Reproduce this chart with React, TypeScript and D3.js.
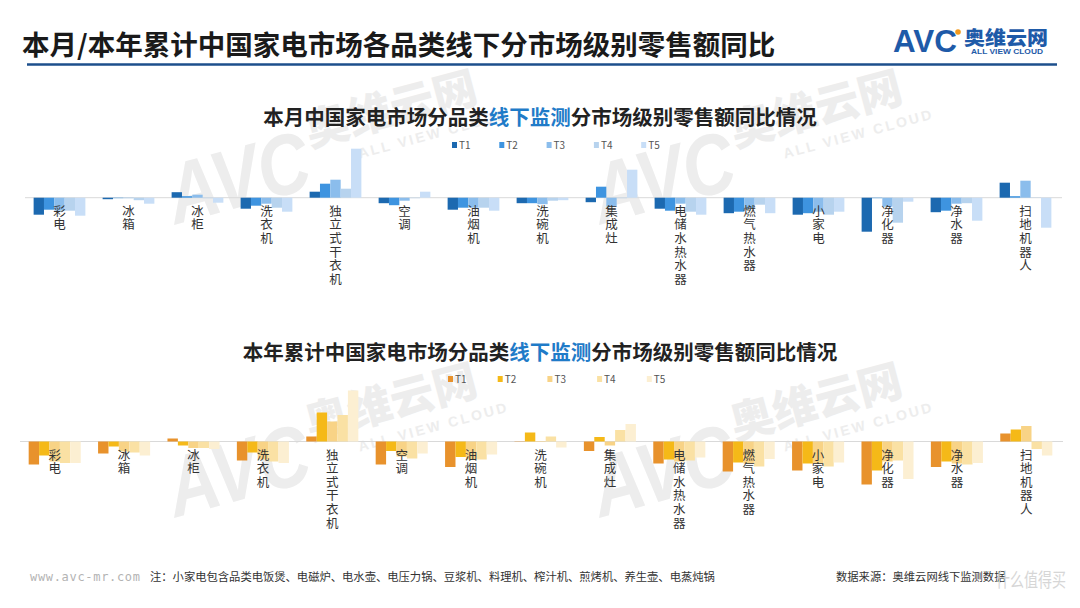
import React from 'react';
import * as d3 from 'd3';

const categories = ['彩电', '冰箱', '冰柜', '洗衣机', '独立式干衣机', '空调', '油烟机', '洗碗机', '集成灶', '电储水热水器', '燃气热水器', '小家电', '净化器', '净水器', '扫地机器人'];
const tiers = ['T1', 'T2', 'T3', 'T4', 'T5'];

// 本月 (month) YoY by tier
const monthT1 = [-17, -1.5, 5.5, -11, 6, -5.5, -12, -5.5, -4.5, -11, -15.5, -17, -34, -14.5, 15];
const monthT2 = [-12, -0.5, 1.5, -8, 14, -7.5, -10, -5.5, 11, -13, -14, -15.5, -0.5, -13, 1.5];
const monthT3 = [-13, -0.5, 3, -6, 18, -3, -10, -6.5, -9, -6, -11, -14, -9, -6, 17];
const monthT4 = [-13, -2.5, -0.5, -10, 9, -0.5, -10, -3, -0.5, -14, -7, -17, -25, -5.5, 0.3];
const monthT5 = [-18, -6, -5, -14, 49, 6, -13, -2.5, 28, -17, -15.5, -14, -4, -23, -30];

// 本年累计 (year-to-date) YoY by tier
const yearT1 = [-23, -12, 3, -19, 5, -23, -25.5, -0.3, -9.5, -22, -30, -29, -43, -25.5, 8];
const yearT2 = [-14, -5, -4, -11, 29, -9.5, -15.5, 9, 4.5, -18, -21, -22, -29, -20, 12];
const yearT3 = [-20, -10, -6.5, -18, 20, -15, -18, 0.5, -4, -20, -22, -22, -20, -22, 15.5];
const yearT4 = [-21.5, -11, -6.5, -20, 26.5, -17, -18, 5, 11.5, -19, -25, -25, -19, -23, -7.5];
const yearT5 = [-21.5, -14, -7.5, -21.5, 51, -12, -13, -6, 17.5, -16, -17.5, -21, -37.5, -21.5, -14];

const blueColors = ['#1c69b0', '#3e94e0', '#8bbdec', '#b7d3ee', '#c8def7'];
const orangeColors = ['#e8922c', '#f5b918', '#f8d386', '#fae1a4', '#fcefd2'];

const FONT = '"Noto Sans CJK SC", "Noto Sans", sans-serif';

type PanelProps = {
  titleParts: [string, string, string];
  titleY: number;
  series: number[][];
  colors: string[];
  range: [number, number];
  baseY: number;
  legendY: number;
  legendX0: number;
  legendStep: number;
};

function Panel({ titleParts, titleY, series, colors, range, baseY, legendY, legendX0, legendStep }: PanelProps) {
  const x = d3.scaleBand<string>().domain(categories).range(range).paddingInner(0.25).paddingOuter(0.125);
  const xi = d3.scaleBand<string>().domain(tiers).range([0, x.bandwidth()]);
  const y = d3.scaleLinear().domain([-50, 60]).range([baseY + 50, baseY - 60]);
  const y0 = y(0);
  return (
    <g>
      <text x={540} y={titleY} textAnchor="middle" fontFamily={FONT} fontWeight={700} fontSize={20.5} fill="#222">
        <tspan>{titleParts[0]}</tspan>
        <tspan fill="#1f7bc8">{titleParts[1]}</tspan>
        <tspan>{titleParts[2]}</tspan>
      </text>
      {tiers.map((t, j) => (
        <g key={t} transform={`translate(${legendX0 + j * legendStep},${legendY})`}>
          <rect x={0} y={-3} width={5} height={6} fill={colors[j]} />
          <text x={7} y={4} fontFamily={FONT} fontSize={10} fill="#555">{t}</text>
        </g>
      ))}
      <line x1={range[0]} x2={range[1] + 2} y1={y0} y2={y0} stroke="#d9d9d9" strokeWidth={1} />
      {categories.map((c, i) => (
        <g key={c}>
          {tiers.map((t, j) => {
            const v = series[j][i];
            const yy = y(v);
            return (
              <rect
                key={t}
                x={(x(c) as number) + (xi(t) as number)}
                y={Math.min(yy, y0)}
                width={xi.bandwidth()}
                height={Math.abs(yy - y0)}
                fill={colors[j]}
              />
            );
          })}
        </g>
      ))}
      {categories.map((c) => (
        <text key={c} fontFamily={FONT} fontSize={12.5} fill="#333" textAnchor="middle">
          {Array.from(c).map((ch, k) => (
            <tspan key={k} x={(x(c) as number) + x.bandwidth() / 2} y={y0 + 18 + k * 13.6}>{ch}</tspan>
          ))}
        </text>
      ))}
    </g>
  );
}

function Watermark({ px, py }: { px: number; py: number }) {
  return (
    <g transform={`translate(${px},${py}) rotate(-15)`} fill="#ededed" fontFamily={FONT} fontWeight={900}>
      <text x={0} y={0} fontSize={44}>奥维云网</text>
      <text x={45} y={24} fontSize={14} letterSpacing={2.5} fontFamily="'Liberation Sans', sans-serif" fontWeight={700}>ALL VIEW CLOUD</text>
      <text x={-150} y={40} fontSize={85} fontStyle="italic" fontFamily="'Liberation Sans', sans-serif" textLength={145} lengthAdjust="spacingAndGlyphs">AVC</text>
    </g>
  );
}

export default function App() {
  const monthSeries = [monthT1, monthT2, monthT3, monthT4, monthT5];
  const yearSeries = [yearT1, yearT2, yearT3, yearT4, yearT5];
  return (
    <svg width={1080} height={608} viewBox="0 0 1080 608" style={{ position: 'absolute', left: 0, top: 0, background: '#fff' }}>
      <rect x={0} y={0} width={1080} height={608} fill="#fff" />
      <Watermark px={310} py={147} />
      <Watermark px={735} py={147} />
      <Watermark px={310} py={440} />
      <Watermark px={735} py={440} />

      <text x={22} y={55} fontFamily={FONT} fontWeight={700} fontSize={27.5} fill="#1a1a1a">本月/本年累计中国家电市场各品类线下分市场级别零售额同比</text>
      <line x1={27} x2={1057} y1={64.5} y2={64.5} stroke="#1d4f8c" strokeWidth={2.5} />
      <g>
        <text x={893} y={52} fontFamily="'Liberation Sans', sans-serif" fontWeight={900} fontSize={32} fill="#1e5aa8" textLength={64} lengthAdjust="spacingAndGlyphs">AVC</text>
        <circle cx={958} cy={32} r={2.8} fill="#f29a1f" />
        <text x={964} y={45} fontFamily={FONT} fontWeight={900} fontSize={19} fill="#1e5aa8" textLength={84} lengthAdjust="spacingAndGlyphs">奥维云网</text>
        <text x={971} y={54} fontFamily="'Liberation Sans', sans-serif" fontWeight={700} fontSize={6.5} fill="#1e5aa8" textLength={72} lengthAdjust="spacingAndGlyphs">ALL VIEW CLOUD</text>
      </g>

      <Panel
        titleParts={['本月中国家电市场分品类', '线下监测', '分市场级别零售额同比情况']}
        titleY={125}
        series={monthSeries}
        colors={blueColors}
        range={[25, 1060]}
        baseY={197.7}
        legendY={145}
        legendX0={452}
        legendStep={47.3}
      />
      <Panel
        titleParts={['本年累计中国家电市场分品类', '线下监测', '分市场级别零售额同比情况']}
        titleY={360}
        series={yearSeries}
        colors={orangeColors}
        range={[20, 1061]}
        baseY={441.5}
        legendY={379}
        legendX0={448}
        legendStep={49.7}
      />

      <text x={30} y={581} fontFamily="'DejaVu Sans Mono', monospace" fontSize={12} fill="#b3b3b3" textLength={110}>www.avc-mr.com</text>
      <text x={150} y={581} fontFamily={FONT} fontSize={11.3} fill="#333">注：小家电包含品类电饭煲、电磁炉、电水壶、电压力锅、豆浆机、料理机、榨汁机、煎烤机、养生壶、电蒸炖锅</text>
      <text x={836} y={581} fontFamily={FONT} fontSize={11.3} fill="#333">数据来源：奥维云网线下监测数据</text>
      <text x={996} y={587} fontFamily={FONT} fontSize={19} fill="#d2d2d2" opacity={0.9} textLength={70} lengthAdjust="spacingAndGlyphs">什么值得买</text>
    </svg>
  );
}
